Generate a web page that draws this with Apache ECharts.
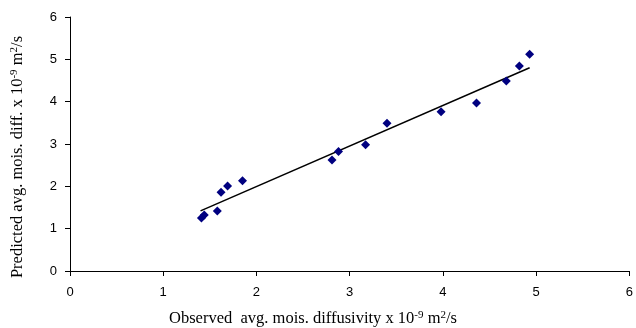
<!DOCTYPE html>
<html>
<head>
<meta charset="utf-8">
<script src="https://cdn.jsdelivr.net/npm/echarts@6/dist/echarts.min.js"></script>
<style>html,body{margin:0;padding:0;background:#fff;}#c{width:636px;height:328px;}</style>
</head>
<body>
<div id="c"></div>
<script>
var observed = [1.41, 1.44, 1.58, 1.62, 1.69, 1.85, 2.81, 2.88, 3.17, 3.40, 3.98, 4.36, 4.68, 4.82, 4.93];
var predicted = [1.25, 1.32, 1.42, 1.86, 2.01, 2.13, 2.62, 2.82, 2.98, 3.49, 3.76, 3.97, 4.49, 4.84, 5.12];
var trendX = [1.40, 4.93];
var trendY = [1.42, 4.80];
var xTicks = [0, 1, 2, 3, 4, 5, 6];
var yTicks = [0, 1, 2, 3, 4, 5, 6];

var points = observed.map(function (x, i) { return [x, predicted[i]]; });
var trend = trendX.map(function (x, i) { return [x, trendY[i]]; });

var chart = echarts.init(document.getElementById('c'), null, {renderer: 'canvas'});
var serif = '"Liberation Serif", "Times New Roman", serif';
var sans = '"Liberation Sans", Arial, sans-serif';
var rich = {
  n: {fontFamily: serif, fontSize: 16.5, color: '#000', lineHeight: 19},
  sup: {fontFamily: serif, fontSize: 11, color: '#000', verticalAlign: 'top', lineHeight: 19, padding: [0, 0, 6, 0]}
};
function axisCommon(ticks) {
  return {
    type: 'value', min: ticks[0], max: ticks[ticks.length - 1], interval: 1,
    axisLine: {show: true, lineStyle: {color: '#000', width: 1}},
    axisTick: {show: true, length: 5, inside: false, lineStyle: {color: '#000'}},
    splitLine: {show: false},
    axisLabel: {color: '#000', fontFamily: sans, fontSize: 13}
  };
}
var xa = axisCommon(xTicks); xa.axisLabel.margin = 15;
var ya = axisCommon(yTicks); ya.axisLabel.margin = 13;

chart.setOption({
  animation: false,
  backgroundColor: '#fff',
  grid: {left: 70, right: 5, top: 17, bottom: 57, containLabel: false},
  xAxis: xa,
  yAxis: ya,
  graphic: [
    {type: 'text', x: 313, y: 319, style: {
      text: '{n|Observed  avg. mois. diffusivity x 10}{sup|-9}{n| m}{sup|2}{n|/s}',
      rich: rich, align: 'center', verticalAlign: 'middle'}},
    {type: 'text', x: 18, y: 157, rotation: Math.PI / 2, style: {
      text: '{n|Predicted avg. mois. diff. x 10}{sup|-9}{n| m}{sup|2}{n|/s}',
      rich: rich, align: 'center', verticalAlign: 'middle'}}
  ],
  series: [
    {type: 'line', data: trend, showSymbol: false, symbol: 'none',
     lineStyle: {color: '#000', width: 1.5}, z: 2, silent: true},
    {type: 'scatter', data: points, symbol: 'diamond', symbolSize: 9,
     itemStyle: {color: '#000080', opacity: 1}, z: 3}
  ]
});
</script>
</body>
</html>
